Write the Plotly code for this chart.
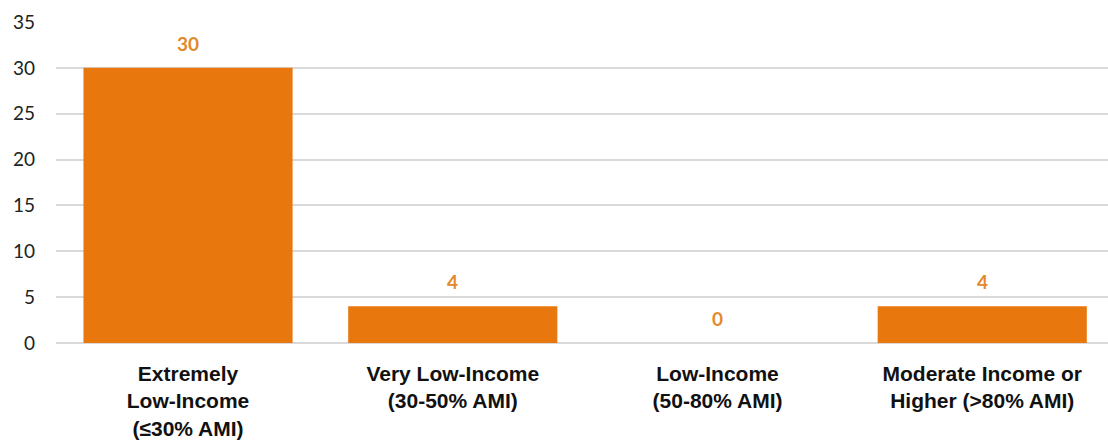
import plotly.graph_objects as go

categories = [
    "Extremely<br>Low-Income<br>(≤30% AMI)",
    "Very Low-Income<br>(30-50% AMI)",
    "Low-Income<br>(50-80% AMI)",
    "Moderate Income or<br>Higher (>80% AMI)",
]
values = [30, 4, 0, 4]
y_ticks = [0, 5, 10, 15, 20, 25, 30, 35]

BAR = "#E8780E"
LABEL = "#E3892B"
FONT = "'Liberation Sans', Arial, sans-serif"
NUM_FONT = "Lato, 'Open Sans', sans-serif"

fig = go.Figure(
    go.Bar(
        x=list(range(len(categories))),
        y=values,
        width=0.79,
        marker=dict(color=BAR, line=dict(width=0)),
        hoverinfo="skip",
    )
)

# value labels above each bar
for i, val in enumerate(values):
    fig.add_annotation(
        x=i, y=val, text=f"<b>{val}</b>", showarrow=False,
        yanchor="bottom", yshift=11,
        font=dict(family=NUM_FONT, size=19, color=LABEL),
    )

fig.update_layout(
    width=1108, height=443,
    margin=dict(l=56, r=0, t=22, b=100),
    paper_bgcolor="white", plot_bgcolor="white",
    showlegend=False,
    font=dict(family=NUM_FONT, size=19, color="#222222"),
)
fig.update_xaxes(
    range=[-0.4987, 3.475],
    tickvals=list(range(len(categories))), ticktext=categories,
    showgrid=False, showline=False, zeroline=False, ticks="",
    tickfont=dict(family=FONT, size=21, color="#111111", weight="bold"),
    ticklabelstandoff=16,
)
fig.update_yaxes(
    range=[0, 35], tickvals=y_ticks, showgrid=True,
    gridcolor="#D9D9D9", gridwidth=2,
    zeroline=True, zerolinecolor="#D9D9D9", zerolinewidth=2,
    showline=False, ticks="", ticklabelstandoff=20,
    tickfont=dict(family=NUM_FONT, size=19, color="#222222"),
)

fig.write_html("out.html")
